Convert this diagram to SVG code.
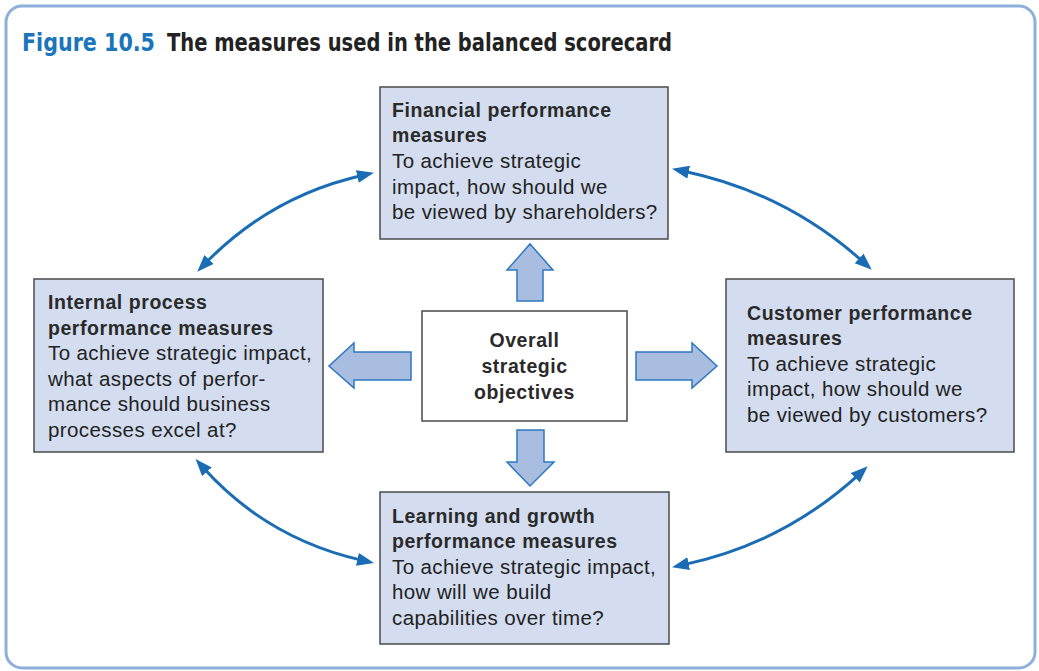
<svg xmlns="http://www.w3.org/2000/svg" width="1039" height="671" viewBox="0 0 1039 671">
<style>
.box{fill:#d3ddef;stroke:#4a4a4a;stroke-width:1.5}
.obox{fill:#ffffff;stroke:#4a4a4a;stroke-width:1.5}
.t{font-family:"Liberation Sans",Arial,sans-serif;font-size:20.5px;fill:#222;letter-spacing:0.4px}
.b{font-weight:bold;font-size:19.5px;letter-spacing:0.55px;fill:#2a2a2a}
.blk{fill:#a9bde0;stroke:#2e78c0;stroke-width:1.5;stroke-linejoin:miter}
.cv{fill:none;stroke:#1a6db5;stroke-width:3}
.ttl{font-family:"Liberation Sans Narrow","DejaVu Sans Condensed",sans-serif;font-weight:bold;font-size:25px}
</style>
<defs>
<marker id="ah" markerUnits="userSpaceOnUse" markerWidth="18" markerHeight="15" refX="6" refY="6.5" orient="auto-start-reverse" viewBox="0 0 18 15">
<path d="M0,0 L17,6.5 L0,13 Z" fill="#1a6db5"/>
</marker>
</defs>
<rect x="6" y="6" width="1029" height="662" rx="16" fill="#fff" stroke="#8eaedb" stroke-width="3"/>
<g id="title">
<text class="ttl" x="22" y="51" fill="#1a75bb" textLength="133" lengthAdjust="spacingAndGlyphs">Figure 10.5</text>
<text class="ttl" x="167" y="51" fill="#222" textLength="505" lengthAdjust="spacingAndGlyphs">The measures used in the balanced scorecard</text>
</g>
<g id="financial">
<rect class="box" x="380" y="87" width="288" height="152"/>
<text class="t b" x="392" y="117">Financial performance</text>
<text class="t b" x="392" y="142">measures</text>
<text class="t" x="392" y="168">To achieve strategic</text>
<text class="t" x="392" y="194">impact, how should we</text>
<text class="t" x="392" y="219">be viewed by shareholders?</text>
</g>
<g id="internal">
<rect class="box" x="34" y="279" width="289" height="173"/>
<text class="t b" x="48" y="309">Internal process</text>
<text class="t b" x="48" y="335">performance measures</text>
<text class="t" x="48" y="360">To achieve strategic impact,</text>
<text class="t" x="48" y="386">what aspects of perfor-</text>
<text class="t" x="48" y="411">mance should business</text>
<text class="t" x="48" y="437">processes excel at?</text>
</g>
<g id="customer">
<rect class="box" x="726" y="279" width="288" height="173"/>
<text class="t b" x="747" y="320">Customer performance</text>
<text class="t b" x="747" y="345">measures</text>
<text class="t" x="747" y="371">To achieve strategic</text>
<text class="t" x="747" y="396">impact, how should we</text>
<text class="t" x="747" y="422">be viewed by customers?</text>
</g>
<g id="learning">
<rect class="box" x="380" y="492" width="289" height="152"/>
<text class="t b" x="392" y="523">Learning and growth</text>
<text class="t b" x="392" y="548">performance measures</text>
<text class="t" x="392" y="574">To achieve strategic impact,</text>
<text class="t" x="392" y="599">how will we build</text>
<text class="t" x="392" y="625">capabilities over time?</text>
</g>
<g id="overall">
<rect class="obox" x="422" y="311" width="205" height="110"/>
<text class="t b" x="524.5" y="347" text-anchor="middle">Overall</text>
<text class="t b" x="524.5" y="373" text-anchor="middle">strategic</text>
<text class="t b" x="524.5" y="399" text-anchor="middle">objectives</text>
</g>
<g id="connectors">
<path class="blk" d="M517,301 L517,270 L507,270 L530,244 L553,270 L543,270 L543,301 Z"/>
<path class="blk" d="M517,430 L517,462 L507,462 L530,486 L554,462 L544,462 L544,430 Z"/>
<path class="blk" d="M411,352 L354,352 L354,343 L329,366 L354,388 L354,380 L411,380 Z"/>
<path class="blk" d="M636,352 L692,352 L692,343 L717,366 L692,388 L692,380 L636,380 Z"/>
<path class="cv" d="M204.9,263.8 Q270.8,195.8 363.2,175.2" marker-start="url(#ah)" marker-end="url(#ah)"/>
<path class="cv" d="M682.8,171 Q785.5,192.2 863.6,262.3" marker-start="url(#ah)" marker-end="url(#ah)"/>
<path class="cv" d="M202.9,467.3 Q267,539 363.3,560.6" marker-start="url(#ah)" marker-end="url(#ah)"/>
<path class="cv" d="M682.8,564.9 Q783.7,543.7 859.6,473.8" marker-start="url(#ah)" marker-end="url(#ah)"/>
</g>
</svg>
